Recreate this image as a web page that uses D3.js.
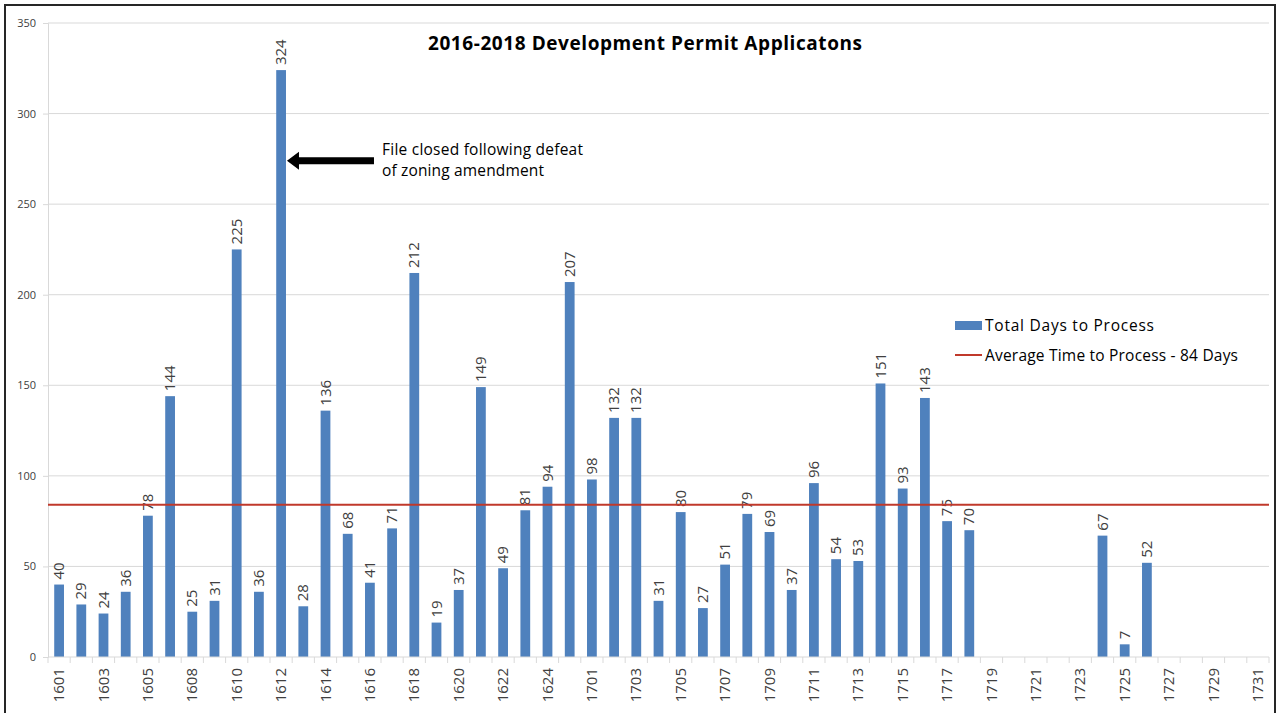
<!DOCTYPE html>
<html><head><meta charset="utf-8">
<script src="https://cdn.jsdelivr.net/npm/d3@7"></script>
<style>body{margin:0;background:#fff;} svg{display:block;}</style>
</head><body>
<script>
const categories = ["1601","1602","1603","1604","1605","1606","1608","1609","1610","1611","1612","1613","1614","1615","1616","1617","1618","1619","1620","1621","1622","1623","1624","1625","1701","1702","1703","1704","1705","1706","1707","1708","1709","1710","1711","1712","1713","1714","1715","1716","1717","1718","1719","1720","1721","1722","1723","1724","1725","1726","1727","1728","1729","1730","1731"];
const totalDays = [40,29,24,36,78,144,25,31,225,36,324,28,136,68,41,71,212,19,37,149,49,81,94,207,98,132,132,31,80,27,51,79,69,37,96,54,53,151,93,143,75,70,null,null,null,null,null,67,7,52,null,null,null,null,null];
const averageDays = 84;
const yTicks = [0,50,100,150,200,250,300,350];
const title = "2016-2018 Development Permit Applicatons";
const seriesNames = ["Total Days to Process","Average Time to Process - 84 Days"];
const annotationLines = ["File closed following defeat","of zoning amendment"];
const annotatedCategory = "1612";
const annotatedValue = 274;

const W=1278,H=713;
const svg=d3.select("body").append("svg").attr("width",W).attr("height",H);
svg.append("rect").attr("x",5).attr("y",5).attr("width",1270).attr("height",720)
  .attr("fill","#fff").attr("stroke","#262626").attr("stroke-width",2);

const m={l:48,r:1269,t:23,b:657};
const x=d3.scaleBand().domain(categories).range([m.l,m.r]).paddingInner(0.56).paddingOuter(0.28);
const y=d3.scaleLinear().domain([0,350]).range([m.b,m.t]);
const font="Open Sans, Liberation Sans, sans-serif";

// gridlines
svg.append("g").selectAll("line").data(yTicks.filter(d=>d>0)).join("line")
  .attr("x1",m.l).attr("x2",m.r).attr("y1",d=>y(d)).attr("y2",d=>y(d))
  .attr("stroke","#d9d9d9").attr("stroke-width",1);

// y axis
const ya=svg.append("g").attr("transform",`translate(${m.l},0)`)
  .call(d3.axisLeft(y).tickValues(yTicks).tickSize(5).tickPadding(7));
ya.select(".domain").attr("stroke","#d9d9d9");
ya.selectAll(".tick line").attr("stroke","#d9d9d9");
ya.selectAll("text").attr("font-family",font).attr("font-size",11).attr("fill","#404040");

// bars
const barData=categories.map((c,i)=>({c,v:totalDays[i]})).filter(d=>d.v!=null);
svg.append("g").selectAll("rect").data(barData).join("rect")
  .attr("x",d=>x(d.c)).attr("width",x.bandwidth()).attr("y",d=>y(d.v)).attr("height",d=>y(0)-y(d.v))
  .attr("fill","#4f81bd");

// value labels
svg.append("g").selectAll("text").data(barData).join("text")
  .attr("transform",d=>`translate(${x(d.c)+x.bandwidth()/2+5},${y(d.v)-5}) rotate(-90)`)
  .attr("font-family",font).attr("font-size",15).attr("fill","#404040").text(d=>d.v);

// x axis
const step=x.step();
const xa=svg.append("g");
xa.append("line").attr("x1",m.l).attr("x2",m.r).attr("y1",m.b).attr("y2",m.b).attr("stroke","#d9d9d9");
xa.selectAll("line.t").data(d3.range(categories.length+1)).join("line").attr("class","t")
  .attr("x1",i=>m.l+i*step).attr("x2",i=>m.l+i*step).attr("y1",m.b).attr("y2",m.b+6).attr("stroke","#d9d9d9");
xa.selectAll("text").data(categories.filter((c,i)=>i%2===0)).join("text")
  .attr("transform",c=>`translate(${x(c)+x.bandwidth()/2+5},${m.b+11}) rotate(-90)`)
  .attr("text-anchor","end").attr("font-family",font).attr("font-size",15).attr("fill","#404040").text(c=>c);

// average line
svg.append("line").attr("x1",m.l).attr("x2",m.r).attr("y1",y(averageDays)).attr("y2",y(averageDays))
  .attr("stroke","#c0392b").attr("stroke-width",2);

// title
svg.append("text").attr("x",645).attr("y",50).attr("text-anchor","middle").attr("textLength",434)
  .attr("font-family",font).attr("font-weight","bold").attr("font-size",19).attr("fill","#000").text(title);

// legend
const lg=svg.append("g").attr("font-family",font).attr("font-size",15.5).attr("fill","#000");
lg.append("rect").attr("x",955).attr("y",321).attr("width",27).attr("height",9).attr("fill","#4f81bd");
lg.append("text").attr("x",985).attr("y",331).attr("textLength",169).text(seriesNames[0]);
lg.append("line").attr("x1",955).attr("x2",982).attr("y1",355).attr("y2",355).attr("stroke","#c0392b").attr("stroke-width",2);
lg.append("text").attr("x",985).attr("y",361).attr("textLength",253).text(seriesNames[1]);

// annotation arrow
const ax=x(annotatedCategory)+x.bandwidth()+1, ay=y(annotatedValue);
svg.append("path").attr("d",`M${ax},${ay} L${ax+12},${ay-9} L${ax+12},${ay-3.5} L${ax+87},${ay-3.5} L${ax+87},${ay+3.5} L${ax+12},${ay+3.5} L${ax+12},${ay+9} Z`)
  .attr("fill","#000");
const at=svg.append("g").attr("font-family",font).attr("font-size",15.5).attr("fill","#000");
at.append("text").attr("x",382).attr("y",155).attr("textLength",201).text(annotationLines[0]);
at.append("text").attr("x",382).attr("y",176).attr("textLength",162).text(annotationLines[1]);
</script>
</body></html>
